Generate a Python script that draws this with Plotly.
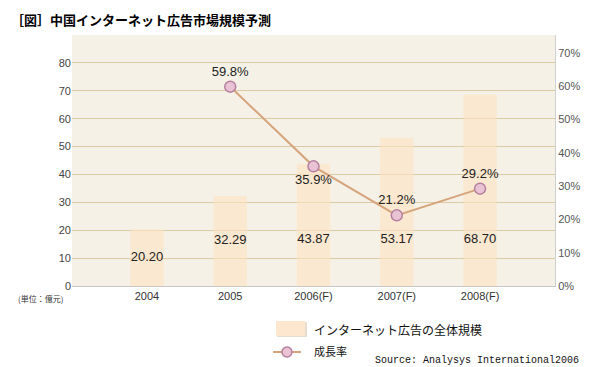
import plotly.graph_objects as go

# ---- data ----
categories = ["2004", "2005", "2006(F)", "2007(F)", "2008(F)"]
market_size = [20.20, 32.29, 43.87, 53.17, 68.70]
growth_x = ["2005", "2006(F)", "2007(F)", "2008(F)"]
growth_rate = [59.8, 35.9, 21.2, 29.2]
growth_text_pos = ["top center", "bottom center", "top center", "top center"]
left_ticks = [0, 10, 20, 30, 40, 50, 60, 70, 80]
right_ticks = [0, 10, 20, 30, 40, 50, 60, 70]
right_tick_labels = ["0%", "10%", "20%", "30%", "40%", "50%", "60%", "70%"]

W, H = 600, 367
L, R, T, B = 64, 547, 27, 278
PW, PH = R - L, B - T


def px(x):
    return (x - L) / PW


def py(y):
    return (B - y) / PH


BG = "#F5F1E6"
BAR = "rgba(255,226,193,0.62)"
GRID = "#D9CBA3"
LINE = "#D6A47C"
MK_FILL = "#E9C2D4"
MK_EDGE = "#B5809F"
TXT = "#222222"

fig = go.Figure()

fig.add_trace(go.Bar(
    x=categories, y=market_size, width=0.4,
    marker=dict(color=BAR, line=dict(width=0)),
    hoverinfo="skip", showlegend=False,
))

label_y = [min(v / 2, 16.5) for v in market_size]
fig.add_trace(go.Scatter(
    x=categories, y=label_y, mode="text",
    text=[f"{v:.2f}" for v in market_size],
    textfont=dict(family="Liberation Sans, Arial", size=13, color=TXT),
    hoverinfo="skip", showlegend=False,
))

fig.add_trace(go.Scatter(
    x=growth_x, y=growth_rate, yaxis="y2", mode="lines+markers+text",
    line=dict(color=LINE, width=2),
    marker=dict(size=11, color=MK_FILL, line=dict(color=MK_EDGE, width=1.5)),
    text=[f"{v:.1f}%" for v in growth_rate],
    textposition=growth_text_pos,
    textfont=dict(family="Liberation Sans, Arial", size=13, color=TXT),
    hoverinfo="skip", showlegend=False,
))

fig.update_layout(
    width=W, height=H,
    margin=dict(l=L, r=W - R, t=T, b=H - B, pad=0),
    paper_bgcolor="white", plot_bgcolor=BG,
    showlegend=False,
    title=dict(
        text="<b>［図］中国インターネット広告市場規模予測</b>",
        x=3 / W, xref="container", xanchor="left",
        y=1 - 12 / H, yref="container", yanchor="middle",
        font=dict(family="Noto Sans CJK JP", size=13, color="#000000"),
    ),
    xaxis=dict(
        type="category", range=[-0.9, 4.9],
        showgrid=False, showline=True, linecolor="#C8C8C8", linewidth=1,
        ticks="", tickfont=dict(family="Liberation Sans, Arial", size=11, color="#333333"),
    ),
    yaxis=dict(
        range=[0, 90], tickvals=left_ticks,
        showgrid=True, gridcolor=GRID, gridwidth=1, zeroline=False,
        showline=False, ticks="",
        tickfont=dict(family="Liberation Sans, Arial", size=11, color="#444444"),
    ),
    yaxis2=dict(
        overlaying="y", side="right", range=[0, 75.3],
        tickmode="array", tickvals=right_ticks, ticktext=right_tick_labels,
        showgrid=False, zeroline=False,
        showline=True, linecolor="#CFCFCF", linewidth=1, ticks="",
        tickfont=dict(family="Liberation Sans, Arial", size=11, color="#555555"),
    ),
)

shapes = [
    # legend: box
    dict(type="rect", xref="paper", yref="paper",
         x0=px(269), x1=px(299), y0=py(329), y1=py(314),
         fillcolor="#E6DDD0", line=dict(width=0)),
    dict(type="rect", xref="paper", yref="paper",
         x0=px(268), x1=px(297), y0=py(328), y1=py(313),
         fillcolor="#FDE8CF", line=dict(width=0)),
    # legend: line sample
    dict(type="line", xref="paper", yref="paper",
         x0=px(265), x1=px(293), y0=py(344), y1=py(344),
         line=dict(color=LINE, width=2)),
    dict(type="circle", xref="paper", yref="paper",
         x0=px(274), x1=px(284), y0=py(349), y1=py(339),
         fillcolor=MK_FILL, line=dict(color=MK_EDGE, width=1.5)),
]
fig.update_layout(shapes=shapes)

annotations = [
    dict(text="(単位：億元)", xref="paper", yref="paper", x=px(8), y=py(290),
         xanchor="left", yanchor="middle", showarrow=False,
         font=dict(family="Noto Sans CJK JP", size=8, color="#333333")),
    dict(text="インターネット広告の全体規模", xref="paper", yref="paper",
         x=px(304), y=py(321), xanchor="left", yanchor="middle", showarrow=False,
         font=dict(family="Noto Sans CJK JP", size=12, color="#111111")),
    dict(text="成長率", xref="paper", yref="paper",
         x=px(304), y=py(343), xanchor="left", yanchor="middle", showarrow=False,
         font=dict(family="Noto Sans CJK JP", size=11, color="#111111")),
    dict(text="Source: Analysys International2006", xref="paper", yref="paper",
         x=px(365), y=py(352), xanchor="left", yanchor="middle", showarrow=False,
         font=dict(family="Liberation Mono", size=10, color="#111111")),
]
fig.update_layout(annotations=annotations)

fig.write_html("out.html")
